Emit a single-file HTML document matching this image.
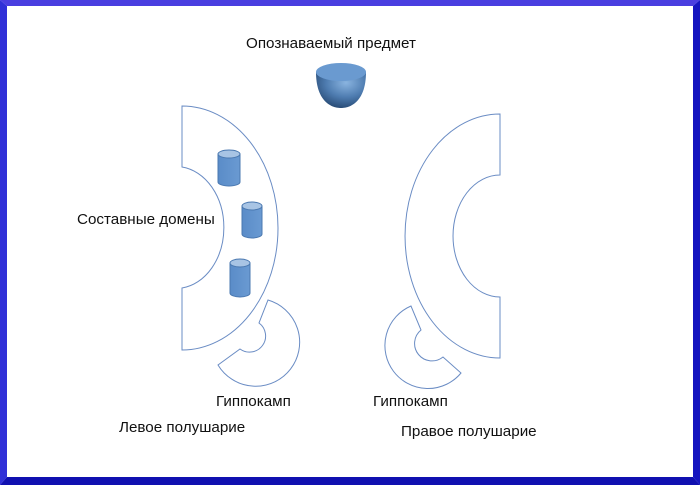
<!DOCTYPE html>
<html><head><meta charset="utf-8"><style>
html,body{margin:0;padding:0;background:#fff}
.wrap{position:relative;width:700px;height:485px;overflow:hidden;background:#fff}
.t{position:absolute;font-family:"Liberation Sans",sans-serif;font-size:15.2px;color:#111;white-space:nowrap}
</style></head><body><div class="wrap">
<svg width="700" height="485" style="position:absolute;left:0;top:0">
<defs>
<linearGradient id="cyl" x1="0" x2="1"><stop offset="0" stop-color="#5a8cc8"/><stop offset="1" stop-color="#6a9ad2"/></linearGradient>
<radialGradient id="bowl" cx="0.6" cy="0.3" r="0.8"><stop offset="0" stop-color="#8ab4e0"/><stop offset="0.5" stop-color="#4e7cb0"/><stop offset="1" stop-color="#1e3e66"/></radialGradient>
</defs>
<polygon points="0,0 700,0 693,6 7,6" fill="#4a3ee0"/>
<polygon points="0,0 7,6 7,477 0,485" fill="#3030d8"/>
<polygon points="700,0 700,485 693,477 693,6" fill="#1515c0"/>
<polygon points="0,485 700,485 693,477 7,477" fill="#1010b0"/>
<g fill="none" stroke="#6a8cc4" stroke-width="1">
<path d="M182,106 A96,122 0 0 1 182,350 L182,288 A48,61 0 0 0 182,167 Z" fill="#fff"/>
<path d="M500,114 A95,122 0 0 0 500,358 L500,297 A47,61 0 0 1 500,175 Z" fill="#fff"/>
<path d="M268,300 A44,44 0 1 1 218,365 L240,349 A16,16 0 1 0 259,323 Z" fill="#fff"/>
<path d="M411,306 A43,43 0 1 0 461,373 L443,357 A17,17 0 1 1 421,330 Z" fill="#fff"/>
</g>
<g stroke="#4a78b0" stroke-width="1">
<path d="M218,154 v28 a11,4 0 0 0 22,0 v-28 z" fill="url(#cyl)"/><ellipse cx="229" cy="154" rx="11" ry="4" fill="#a8c4e4"/>
<path d="M242,206 v28 a10,4 0 0 0 20,0 v-28 z" fill="url(#cyl)"/><ellipse cx="252" cy="206" rx="10" ry="4" fill="#a8c4e4"/>
<path d="M230,263 v30 a10,4 0 0 0 20,0 v-30 z" fill="url(#cyl)"/><ellipse cx="240" cy="263" rx="10" ry="4" fill="#a8c4e4"/>
</g>
<path d="M316,72 C316,100 330,108 341,108 C352,108 366,100 366,72 Z" fill="url(#bowl)"/>
<ellipse cx="341" cy="72" rx="25" ry="9" fill="#6a9ad0"/>
</svg>
<div class="t" style="left:246px;top:35px">Опознаваемый предмет</div>
<div class="t" style="left:77px;top:211px">Составные домены</div>
<div class="t" style="left:216px;top:393px">Гиппокамп</div>
<div class="t" style="left:373px;top:393px">Гиппокамп</div>
<div class="t" style="left:119px;top:419px">Левое полушарие</div>
<div class="t" style="left:401px;top:423px">Правое полушарие</div>
</div></body></html>
